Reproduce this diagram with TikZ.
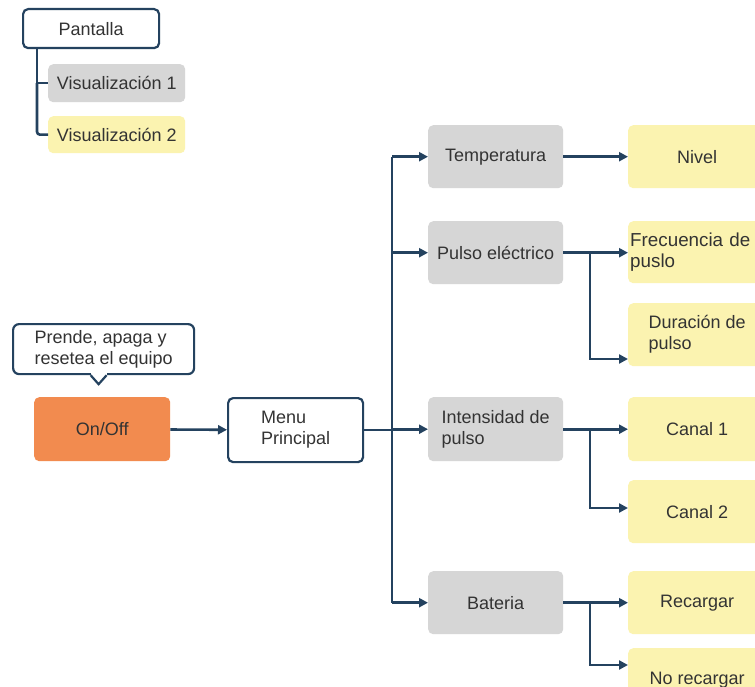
\documentclass[tikz,border=0pt]{standalone}
\usepackage{fontspec}
\setmainfont{Liberation Sans}
\usetikzlibrary{arrows.meta,calc}
\definecolor{navy}{HTML}{24425F}
\definecolor{boxgray}{HTML}{D6D6D6}
\definecolor{boxyellow}{HTML}{FBF3B0}
\definecolor{boxorange}{HTML}{F28B4F}
\definecolor{ink}{HTML}{333333}
\tikzset{
  base/.style={rounded corners=5pt, text=ink, inner sep=0pt, align=left,
    font=\fontsize{18}{21}\selectfont, anchor=north west},
  outlined/.style={base, draw=navy, line width=2.2pt, fill=white},
  greybox/.style={base, fill=boxgray},
  yellowbox/.style={base, fill=boxyellow},
  orangebox/.style={base, fill=boxorange},
  wire/.style={draw=navy, line width=2.6pt},
  link/.style={wire, -{Triangle[length=9pt,width=9pt]}},
}
\begin{document}
\begin{tikzpicture}[x=1pt,y=-1pt]
\useasboundingbox (0,0) rectangle (755,687);
\clip (0,0) rectangle (755,687);
\fill[white] (0,0) rectangle (755,687);

% legend
\node[outlined, minimum width=136pt, minimum height=39pt] (pant) at (22,8) {Pantalla};
\node[greybox, minimum width=137pt, minimum height=38pt] (vis1) at (48,64) {Visualización 1};
\node[yellowbox, minimum width=137pt, minimum height=37pt] (vis2) at (48,116) {Visualización 2};
\coordinate (lg) at (37,0);
\draw[wire] (pant.south -| lg) -- (vis1.west -| lg) -- (vis1.west);
\draw[wire, rounded corners=3pt] (vis1.west -| lg) |- (vis2.west);

% callout with its pointer
\node[outlined, rounded corners=6pt, minimum width=181pt, minimum height=50pt] (note) at (12,323)
  {Prende, apaga y\\resetea el equipo};
\coordinate (tip) at ($(note.south)+(-5,0)$);
\fill[white] ($(tip)+(-8,-3)$) rectangle ($(tip)+(8,2)$);
\draw[navy, line width=2.2pt, line join=miter]
  ($(tip)+(-8,0)$) -- ($(tip)+(0,9)$) -- ($(tip)+(8,0)$);

% main chain
\node[orangebox, minimum width=136pt, minimum height=64pt] (onoff) at (34,397) {On/Off};
\node[outlined, minimum width=135pt, minimum height=64pt] (menu) at (227,397) {Menu\\Principal};
\draw[link] (onoff) -- (menu);

% second level
\node[greybox, minimum width=135pt, minimum height=63pt] (temp) at (428,125) {Temperatura};
\node[greybox, minimum width=135pt, minimum height=63pt] (pulso) at (428,221) {Pulso eléctrico};
\node[greybox, minimum width=135pt, minimum height=64pt] (inten) at (428,397) {Intensidad de\\pulso};
\node[greybox, minimum width=135pt, minimum height=63pt] (bat) at (428,571) {Bateria};

\coordinate (trunk) at (392,0);
\draw[wire] (menu) -- (menu -| trunk);
\draw[wire] (temp.west -| trunk) -- (bat.west -| trunk);
\draw[link] (temp.west -| trunk) -- (temp.west);
\draw[link] (pulso.west -| trunk) -- (pulso.west);
\draw[link] (inten.west -| trunk) -- (inten.west);
\draw[link] (bat.west -| trunk) -- (bat.west);

% third level
\node[yellowbox, minimum width=138pt, minimum height=63pt] (nivel) at (628,125) {Nivel};
\node[yellowbox, minimum height=62pt, text width=134pt, inner xsep=2pt,
  font=\fontsize{18.8}{21}\selectfont] (frec) at (628,221) {Frecuencia de\\puslo};
\node[yellowbox, minimum width=138pt, minimum height=63pt] (dur) at (628,303) {Duración de\\pulso};
\node[yellowbox, minimum width=138pt, minimum height=64pt] (can1) at (628,397) {Canal 1};
\node[yellowbox, minimum width=138pt, minimum height=63pt] (can2) at (628,480) {Canal 2};
\node[yellowbox, minimum width=138pt, minimum height=63pt] (rec) at (628,571) {Recargar};
\node[yellowbox, minimum width=138pt, minimum height=63pt] (norec) at (628,648) {No recargar};

\coordinate (split) at (590,0);
\coordinate (durin) at (628,359);
\coordinate (can2in) at (628,508);
\coordinate (norecin) at (628,665);

\draw[link] (temp) -- (nivel.west |- temp);
\draw[link] (pulso) -- (frec.west |- pulso);
\draw[link] (pulso -| split) |- (durin);
\draw[link] (inten) -- (can1.west |- inten);
\draw[link] (inten -| split) |- (can2in);
\draw[link] (bat) -- (rec.west |- bat);
\draw[link] (bat -| split) |- (norecin);
\end{tikzpicture}
\end{document}
